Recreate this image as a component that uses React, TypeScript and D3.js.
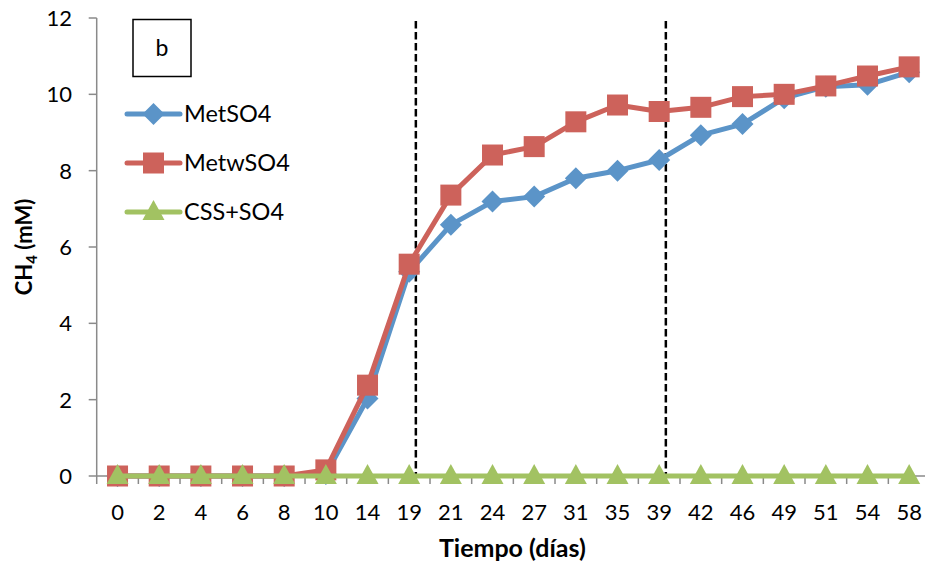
import React from "react";
import * as d3 from "d3";

const categories = ["0","2","4","6","8","10","14","19","21","24","27","31","35","39","42","46","49","51","54","58"];
const metSO4 = [0,0,0,0,0,0.05,2.03,5.35,6.58,7.19,7.32,7.8,8.0,8.28,8.93,9.22,9.9,10.2,10.25,10.58];
const metwSO4 = [0,0,0,0,0,0.16,2.38,5.55,7.36,8.41,8.63,9.28,9.72,9.55,9.66,9.94,10.0,10.22,10.48,10.72];
const cssSO4 = [0,0,0,0,0,0,0,0,0,0,0,0,0,0,0,0,0,0,0,0];
const yTicks = [0,2,4,6,8,10,12];
const dashedAfter = [{ cat: "19", frac: 0.16 }, { cat: "39", frac: 0.16 }];

const series = [
  { name: "MetSO4", values: metSO4, color: "#5b94c8", marker: "diamond" },
  { name: "MetwSO4", values: metwSO4, color: "#cd625b", marker: "square" },
  { name: "CSS+SO4", values: cssSO4, color: "#a2c262", marker: "triangle" },
];

const W = 925, H = 564;
const left = 96.7, right = 930, top = 18, bottom = 476;
const FONT = "Lato, 'Open Sans', sans-serif";

function Marker({ type, x, y, color }: { type: string; x: number; y: number; color: string }) {
  if (type === "square") return <rect x={x - 10.5} y={y - 10.5} width={21} height={21} fill={color} />;
  if (type === "diamond") {
    const r = 11;
    return <path d={`M${x},${y - r}L${x + r},${y}L${x},${y + r}L${x - r},${y}Z`} fill={color} />;
  }
  const h = 20, w = 22;
  return <path d={`M${x},${y - h * 0.6}L${x + w / 2},${y + h * 0.4}L${x - w / 2},${y + h * 0.4}Z`} fill={color} />;
}

export default function App() {
  const x = d3.scaleBand().domain(categories).range([left, right]).padding(0);
  const xc = (c: string) => (x(c) as number) + x.bandwidth() / 2;
  const y = d3.scaleLinear().domain([0, 12]).range([bottom, top]);
  const line = d3.line<number>().x((_, i) => xc(categories[i])).y((v) => y(v));
  const axisColor = "#8a8a8a";
  const legendRows = [114, 163, 212];

  return (
    <svg width={W} height={H} style={{ position: "absolute", left: 0, top: 0, background: "#fff" }} fontFamily={FONT}>
      {/* y axis */}
      <line x1={left} x2={left} y1={top} y2={bottom} stroke={axisColor} strokeWidth={1.5} />
      {yTicks.map((t) => (
        <g key={t}>
          <line x1={left - 8} x2={left} y1={y(t)} y2={y(t)} stroke={axisColor} strokeWidth={1.5} />
          <text x={72} y={y(t)} dy="0.36em" textAnchor="end" fontSize={22} fill="#000">{t}</text>
        </g>
      ))}
      {/* x axis */}
      <line x1={left} x2={right} y1={bottom} y2={bottom} stroke={axisColor} strokeWidth={1.5} />
      {categories.map((c) => (
        <g key={c}>
          <line x1={x(c) as number} x2={x(c) as number} y1={bottom} y2={bottom + 8} stroke={axisColor} strokeWidth={1.5} />
          <text x={xc(c)} y={520} textAnchor="middle" fontSize={22} fill="#000">{c}</text>
        </g>
      ))}
      <text x={(left + right) / 2 - 1} y={557} textAnchor="middle" fontSize={25} fontWeight="bold">Tiempo (días)</text>
      <text transform={`translate(32,${(top + bottom) / 2}) rotate(-90)`} textAnchor="middle" fontSize={22} fontWeight="bold">
        CH<tspan fontSize={15} dy={5}>4</tspan><tspan dy={-5}> (mM)</tspan>
      </text>
      {/* dashed lines */}
      {dashedAfter.map((d, i) => {
        const px = xc(d.cat) + d.frac * x.bandwidth();
        return <line key={i} x1={px} x2={px} y1={y(12) + 3} y2={bottom} stroke="#000" strokeWidth={2.5} strokeDasharray="7.5,3.5" />;
      })}
      {/* series */}
      {series.map((s) => (
        <g key={s.name}>
          <path d={line(s.values) as string} fill="none" stroke={s.color} strokeWidth={5} strokeLinejoin="round" />
          {s.values.map((v, i) => (
            <Marker key={i} type={s.marker} x={xc(categories[i])} y={y(v)} color={s.color} />
          ))}
        </g>
      ))}
      {/* label box */}
      <rect x={133} y={19.5} width={58} height={57} fill="#fff" stroke="#000" strokeWidth={1.5} />
      <text x={162} y={48} dy="0.36em" textAnchor="middle" fontSize={23}>b</text>
      {/* legend */}
      {series.map((s, i) => (
        <g key={s.name}>
          <line x1={127} x2={180} y1={legendRows[i]} y2={legendRows[i]} stroke={s.color} strokeWidth={5} strokeLinecap="round" />
          <Marker type={s.marker} x={153.5} y={legendRows[i]} color={s.color} />
          <text x={184} y={legendRows[i]} dy="0.36em" fontSize={23.5}>{s.name}</text>
        </g>
      ))}
    </svg>
  );
}
